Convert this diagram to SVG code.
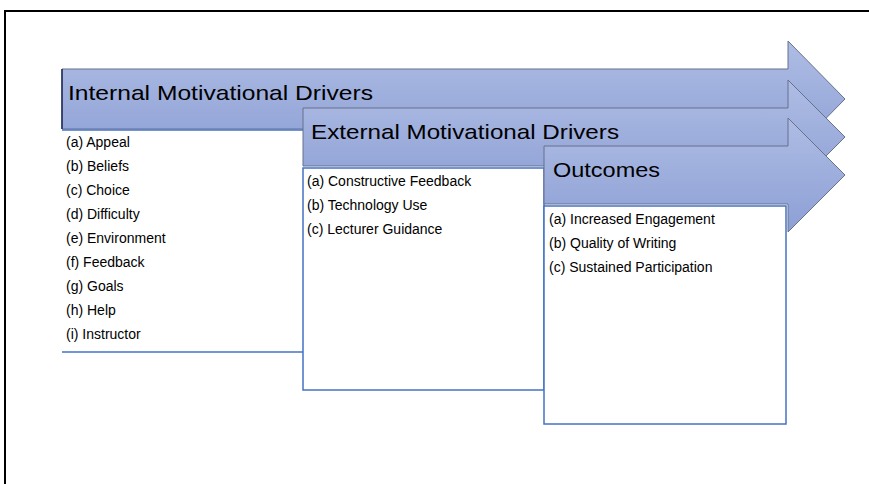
<svg xmlns="http://www.w3.org/2000/svg" width="869" height="484" viewBox="0 0 869 484">
  <defs>
    <linearGradient id="arrowFill" x1="0" y1="0" x2="0" y2="1">
      <stop offset="0" stop-color="#afbde4"/>
      <stop offset="1" stop-color="#8c9fd5"/>
    </linearGradient>
    <style>
      .arrow { fill: url(#arrowFill); stroke: #66718c; stroke-width: 1; }
      .edge { stroke: #1f2a55; stroke-width: 1.5; }
      .box { fill: #ffffff; stroke: #4472c4; stroke-width: 1.5; }
      .rule { stroke: #4472c4; stroke-width: 1.5; }
      .head { font-family: "Liberation Sans", Arial, sans-serif; font-size: 21px; fill: #000000; }
      .item { font-family: "Liberation Sans", Arial, sans-serif; font-size: 14px; fill: #000000; }
    </style>
  </defs>

  <rect width="869" height="484" fill="#ffffff"/>
  <!-- page frame -->
  <rect x="5" y="11" width="900" height="520" fill="none" stroke="#000000" stroke-width="2"/>

  <g id="internal">
    <path class="arrow" d="M62,69 H788 V41 L845,99 L788,157 V129 H62 Z"/>
    <line class="edge" x1="62" y1="69" x2="62" y2="129"/>
    <text class="head" x="68" y="100" textLength="305" lengthAdjust="spacingAndGlyphs">Internal Motivational Drivers</text>
    <rect x="62" y="130" width="241" height="222" fill="#ffffff"/>
    <line class="rule" x1="62" y1="130" x2="303" y2="130"/>
    <line class="rule" x1="62" y1="352" x2="303" y2="352"/>
    <text class="item" x="66" y="147">(a) Appeal</text>
    <text class="item" x="66" y="171">(b) Beliefs</text>
    <text class="item" x="66" y="195">(c) Choice</text>
    <text class="item" x="66" y="219">(d) Difficulty</text>
    <text class="item" x="66" y="243">(e) Environment</text>
    <text class="item" x="66" y="267">(f) Feedback</text>
    <text class="item" x="66" y="291">(g) Goals</text>
    <text class="item" x="66" y="315">(h) Help</text>
    <text class="item" x="66" y="339">(i) Instructor</text>
  </g>

  <g id="external">
    <path class="arrow" d="M303,108 H788 V80 L845,137 L788,194 V166 H303 Z"/>
    <text class="head" x="311" y="139" textLength="308" lengthAdjust="spacingAndGlyphs">External Motivational Drivers</text>
    <rect class="box" x="303" y="168" width="241" height="222"/>
    <text class="item" x="307" y="186">(a) Constructive Feedback</text>
    <text class="item" x="307" y="210">(b) Technology Use</text>
    <text class="item" x="307" y="234">(c) Lecturer Guidance</text>
  </g>

  <g id="outcomes">
    <path class="arrow" d="M544,146 H788 V118 L845,175 L788,232 V204 H544 Z"/>
    <text class="head" x="553" y="177" textLength="107" lengthAdjust="spacingAndGlyphs">Outcomes</text>
    <rect class="box" x="544" y="206" width="242" height="218"/>
    <text class="item" x="549" y="224">(a) Increased Engagement</text>
    <text class="item" x="549" y="248">(b) Quality of Writing</text>
    <text class="item" x="549" y="272">(c) Sustained Participation</text>
  </g>

  <g id="connectors"/>
</svg>
